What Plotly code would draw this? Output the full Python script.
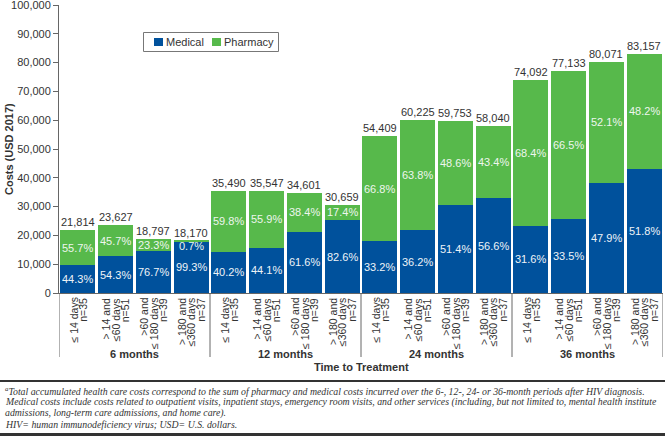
import plotly.graph_objects as go

groups = ["6 months", "12 months", "24 months", "36 months"]
tick_labels = [
    ["≤ 14 days", "n=35"],
    ["> 14 and", "≤60 days", "n=51"],
    [">60 and", "≤ 180 days", "n=39"],
    ["> 180 and", "≤360 days", "n=37"],
]
totals = [21814, 23627, 18797, 18170,
          35490, 35547, 34601, 30659,
          54409, 60225, 59753, 58040,
          74092, 77133, 80071, 83157]
medical_pct = [44.3, 54.3, 76.7, 99.3,
               40.2, 44.1, 61.6, 82.6,
               33.2, 36.2, 51.4, 56.6,
               31.6, 33.5, 47.9, 51.8]
pharmacy_pct = [55.7, 45.7, 23.3, 0.7,
                59.8, 55.9, 38.4, 17.4,
                66.8, 63.8, 48.6, 43.4,
                68.4, 66.5, 52.1, 48.2]
series_names = ["Medical", "Pharmacy"]

BLUE = "#00519C"
GREEN = "#57B94B"
TXT = "#333333"
FONT = "Arial, Liberation Sans, sans-serif"

# page layout (pixels)
W, H = 665, 436
L, R, T, B = 59, 2, 5, 143
PW, PH = W - L - R, H - T - B
BOTTOM = H - B


def px(xp):
    return (xp - L) / PW


def py(yp):
    return (BOTTOM - yp) / PH


n = len(totals)
xs = list(range(n))
medical = [t * p / 100 for t, p in zip(totals, medical_pct)]
pharmacy = [t - m for t, m in zip(totals, medical)]

fig = go.Figure()
fig.add_trace(go.Bar(x=xs, y=medical, name=series_names[0], marker=dict(color=BLUE, line=dict(width=0))))
fig.add_trace(go.Bar(x=xs, y=pharmacy, name=series_names[1], marker=dict(color=GREEN, line=dict(width=0))))

ann = []
for i in range(n):
    ann.append(dict(x=i, y=totals[i], text=f"{totals[i]:,}", showarrow=False, yanchor="bottom",
                    yshift=0, font=dict(size=11, color=TXT, family=FONT)))
    ann.append(dict(x=i, y=medical[i] / 2, text=f"{medical_pct[i]:.1f}%", showarrow=False,
                    font=dict(size=11, color="#EEF3F8", family=FONT)))
    seg = pharmacy[i]
    if seg > 3000:
        yy = medical[i] + seg / 2
    else:
        yy = totals[i] - 1900
    ann.append(dict(x=i, y=yy, text=f"{pharmacy_pct[i]:.1f}%", showarrow=False,
                    font=dict(size=11, color="#EEF6EE", family=FONT)))
    # rotated category labels, one column per line
    lines = tick_labels[i % 4]
    k = len(lines)
    for j, line in enumerate(lines):
        ann.append(dict(x=i, y=py(296), yref="paper", text=line, showarrow=False, textangle=-90,
                        xanchor="center", yanchor="top", xshift=(j - (k - 1) / 2) * 9.7,
                        font=dict(size=10.5, color=TXT, family=FONT)))

for g, name in enumerate(groups):
    ann.append(dict(x=g * 4 + 1.5, y=py(354), yref="paper", text=f"<b>{name}</b>",
                    showarrow=False, yanchor="middle", font=dict(size=11, color=TXT, family=FONT)))

ann.append(dict(x=0.5, xref="paper", y=py(367), yref="paper", text="<b>Time to Treatment</b>",
                showarrow=False, yanchor="middle", font=dict(size=11, color=TXT, family=FONT)))
ann.append(dict(x=px(9), xref="paper", y=0.5, yref="paper", text="<b>Costs (USD 2017)</b>",
                showarrow=False, textangle=-90, xanchor="center",
                font=dict(size=11, color=TXT, family=FONT)))

foot = [
    "<sup>a</sup>Total accumulated health care costs correspond to the sum of pharmacy and medical costs incurred over the 6-, 12-, 24- or 36-month periods after HIV diagnosis.",
    "Medical costs include costs related to outpatient visits, inpatient stays, emergency room visits, and other services (including, but not limited to, mental health institute",
    "admissions, long-term care admissions, and home care).",
    "HIV= human immunodeficiency virus; USD= U.S. dollars.",
]
foot_y = [391, 402, 413, 424]
for t, yp in zip(foot, foot_y):
    ann.append(dict(x=px(3), xref="paper", xanchor="left", y=py(yp), yref="paper",
                    yanchor="middle", text=t, showarrow=False,
                    font=dict(size=9.8, color=TXT, family="Liberation Serif, serif", style="italic")))

shapes = []
for xv in [-0.5, 3.5, 7.5, 11.5, 15.5]:
    shapes.append(dict(type="line", xref="x", yref="paper", x0=xv, x1=xv, y0=0, y1=py(357),
                       line=dict(color="#666666", width=1)))
shapes.append(dict(type="line", xref="paper", yref="paper", x0=px(-5), x1=px(670),
                   y0=py(381), y1=py(381), line=dict(color="#333333", width=2)))
shapes.append(dict(type="line", xref="paper", yref="paper", x0=px(-5), x1=px(670),
                   y0=py(434.5), y1=py(434.5), line=dict(color="#333333", width=3)))

# legend box (drawn to match the compact original legend)
shapes.append(dict(type="rect", xref="paper", yref="paper", x0=px(143.5), x1=px(278.5),
                   y0=py(51.5), y1=py(32.5), line=dict(color="#777777", width=1), fillcolor="white"))
for (x0, x1), col, (tx, name) in zip([(154, 163), (212, 221)], [BLUE, GREEN],
                                     [(164, series_names[0]), (222, series_names[1])]):
    shapes.append(dict(type="rect", xref="paper", yref="paper", x0=px(x0), x1=px(x1),
                       y0=py(46), y1=py(38), line=dict(width=0), fillcolor=col))
    ann.append(dict(x=px(tx), xref="paper", xanchor="left", y=py(42), yref="paper", yanchor="middle",
                    text=name, showarrow=False, font=dict(size=11, color=TXT, family=FONT)))

fig.update_layout(
    barmode="stack",
    bargap=0.07,
    width=W, height=H,
    margin=dict(l=L, r=R, t=T, b=B, autoexpand=False),
    paper_bgcolor="white", plot_bgcolor="white",
    font=dict(family=FONT, size=11, color=TXT),
    showlegend=False,
    annotations=ann,
    shapes=shapes,
)
fig.update_xaxes(range=[-0.5, 15.5], tickmode="array", tickvals=xs, showticklabels=False,
                 showline=True, linecolor="#666666", ticks="", automargin=False,
                 showgrid=False, zeroline=False)
fig.update_yaxes(range=[0, 100000.1], tickmode="array", tickvals=list(range(0, 100001, 10000)),
                 tickformat=",", showline=True, linecolor="#666666", automargin=False,
                 ticklabeloverflow="allow",
                 ticks="outside", ticklen=5, tickcolor="#666666", showgrid=False, zeroline=False,
                 tickfont=dict(size=11, color=TXT, family=FONT))

fig.write_html("out.html", config={"displayModeBar": False},
               post_script="document.body.style.margin='0';document.body.style.padding='0';")
